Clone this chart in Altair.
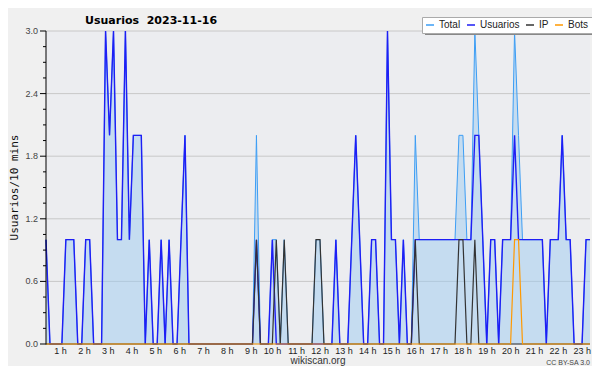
import altair as alt
import pandas as pd

# 10-minute slots from 00:00 to 22:50 (index 0..137)
usuarios = [
    1, 0, 0, 0, 0, 1, 1, 1, 0, 0, 1, 1,
    0, 0, 0, 3, 2, 3, 1, 1, 3, 1, 2, 2,
    2, 0, 1, 0, 0, 1, 0, 1, 0, 0, 1, 2,
    0, 0, 0, 0, 0, 0, 0, 0, 0, 0, 0, 0,
    0, 0, 0, 0, 0, 1, 0, 0, 0, 1, 0, 0,
    0, 0, 0, 0, 0, 0, 0, 0, 0, 0, 0, 0,
    0, 1, 0, 0, 0, 1, 2, 1, 0, 0, 1, 1,
    0, 0, 3, 1, 1, 0, 1, 0, 0, 1, 1, 1,
    1, 1, 1, 1, 1, 1, 1, 1, 1, 1, 1, 1,
    2, 2, 1, 0, 1, 1, 0, 1, 1, 1, 2, 1,
    1, 1, 1, 1, 1, 1, 0, 1, 1, 1, 2, 1,
    1, 0, 0, 0, 1, 1,
]
ip = [
    0, 0, 0, 0, 0, 0, 0, 0, 0, 0, 0, 0,
    0, 0, 0, 0, 0, 0, 0, 0, 0, 0, 0, 0,
    0, 0, 0, 0, 0, 0, 0, 0, 0, 0, 0, 0,
    0, 0, 0, 0, 0, 0, 0, 0, 0, 0, 0, 0,
    0, 0, 0, 0, 0, 1, 0, 0, 0, 0, 1, 0,
    1, 0, 0, 0, 0, 0, 0, 0, 1, 1, 0, 0,
    0, 0, 0, 0, 0, 0, 0, 0, 0, 0, 0, 0,
    0, 0, 0, 0, 0, 0, 0, 0, 0, 1, 0, 0,
    0, 0, 0, 0, 0, 0, 0, 0, 1, 1, 0, 0,
    1, 0, 0, 0, 0, 0, 0, 0, 0, 0, 0, 0,
    0, 0, 0, 0, 0, 0, 0, 0, 0, 0, 0, 0,
    0, 0, 0, 0, 0, 0,
]
bots = [
    0, 0, 0, 0, 0, 0, 0, 0, 0, 0, 0, 0,
    0, 0, 0, 0, 0, 0, 0, 0, 0, 0, 0, 0,
    0, 0, 0, 0, 0, 0, 0, 0, 0, 0, 0, 0,
    0, 0, 0, 0, 0, 0, 0, 0, 0, 0, 0, 0,
    0, 0, 0, 0, 0, 0, 0, 0, 0, 0, 0, 0,
    0, 0, 0, 0, 0, 0, 0, 0, 0, 0, 0, 0,
    0, 0, 0, 0, 0, 0, 0, 0, 0, 0, 0, 0,
    0, 0, 0, 0, 0, 0, 0, 0, 0, 0, 0, 0,
    0, 0, 0, 0, 0, 0, 0, 0, 0, 0, 0, 0,
    0, 0, 0, 0, 0, 0, 0, 0, 0, 0, 1, 1,
    0, 0, 0, 0, 0, 0, 0, 0, 0, 0, 0, 0,
    0, 0, 0, 0, 0, 0,
]
total = [u + p + b for u, p, b in zip(usuarios, ip, bots)]

series_names = ["Total", "Usuarios", "IP", "Bots"]
series_colors = ["#3d9ef5", "#1e1ef5", "#333333", "#ff9900"]
hour_ticks = list(range(1, 24))
hour_labels = [f"{h} h" for h in hour_ticks]
y_major = [0.0, 0.6, 1.2, 1.8, 2.4, 3.0]
y_major_labels = ["0.0", "0.6", "1.2", "1.8", "2.4", "3.0"]
y_minor = [0.15, 0.3, 0.45, 0.75, 0.9, 1.05, 1.35, 1.5, 1.65, 1.95, 2.1, 2.25, 2.55, 2.7, 2.85]
title_text = "Usuarios\u00a0\u00a02023-11-16"
y_title = "Usuarios/10 mins"

n = len(usuarios)
idx = list(range(n))
df_total = pd.DataFrame({"i": idx, "v": total})
long_rows = []
for name, vals in zip(series_names, [total, usuarios, ip, bots]):
    for i, v in enumerate(vals):
        long_rows.append({"i": i, "v": v, "serie": name})
df_long = pd.DataFrame(long_rows)
df_hours = pd.DataFrame({"i": [h * 6 for h in hour_ticks], "lab": hour_labels})
df_minor = pd.DataFrame({"v": y_minor})
df_major = pd.DataFrame({"v": y_major, "lab": y_major_labels})
df_one = pd.DataFrame({"a": [0]})

W, H = 544, 313
xscale = alt.Scale(domain=[0, n - 1], nice=False, zero=False)
yscale = alt.Scale(domain=[0, 3], nice=False)

x_axis = alt.Axis(values=idx, labels=False, tickSize=4, grid=False, title=None,
                  domainColor="#000", tickColor="#000", domainWidth=1, tickWidth=1)

Y = lambda: alt.Y("v:Q", scale=yscale, axis=None)

grid = alt.Chart(df_major).mark_rule(color="#c8c8c8", strokeWidth=1).encode(
    y=Y(), x=alt.value(0), x2=alt.value(W))

area = alt.Chart(df_total).mark_area(color="#9ecbf0", opacity=0.5, interpolate="linear").encode(
    x=alt.X("i:Q", scale=xscale, axis=x_axis),
    y=alt.Y("v:Q", scale=yscale, axis=None, stack=None),
)

legend = alt.Legend(orient="none", legendX=376, legendY=-14, direction="horizontal", title=None,
                    fillColor="#ffffff", strokeColor="#aaaaaa", padding=3, symbolType="stroke",
                    symbolSize=64, symbolStrokeWidth=1.5, labelFont="Liberation Sans",
                    labelFontSize=10, labelColor="#222", labelOffset=4, columnPadding=3,
                    labelLimit=0)
color = alt.Color("serie:N", scale=alt.Scale(domain=series_names, range=series_colors), legend=legend)

lines = []
for name, sw in zip(series_names, [1.0, 1.4, 1.2, 1.2]):
    lines.append(
        alt.Chart(df_long).transform_filter(alt.datum.serie == name)
        .mark_line(strokeWidth=sw, interpolate="linear")
        .encode(x=alt.X("i:Q", scale=xscale, axis=None), y=Y(), color=color)
    )

y_domain = alt.Chart(df_one).mark_rule(color="#000", strokeWidth=1).encode(
    x=alt.value(0), y=alt.value(0), y2=alt.value(H + 0.5))
minor = alt.Chart(df_minor).mark_rule(color="#000", strokeWidth=1).encode(
    y=Y(), x=alt.value(-3), x2=alt.value(0))
major = alt.Chart(df_major).mark_rule(color="#000", strokeWidth=1).encode(
    y=Y(), x=alt.value(-6), x2=alt.value(0))
ylabels = alt.Chart(df_major).mark_text(font="Liberation Sans", fontSize=9, color="#444",
                                        align="right", baseline="middle").encode(
    y=Y(), x=alt.value(-8), text="lab:N")
ytitle = alt.Chart(df_one).mark_text(text=y_title, font="DejaVu Sans Mono", fontSize=11,
                                     color="#111", angle=270, align="center",
                                     baseline="middle").encode(
    x=alt.value(-31), y=alt.value(H / 2))

hours = alt.Chart(df_hours).mark_text(font="Liberation Sans", fontSize=9, color="#222",
                                      align="right", baseline="middle", dx=-3).encode(
    x=alt.X("i:Q", scale=xscale, axis=None), y=alt.value(H + 7), text="lab:N")

shadow = alt.Chart(df_one).mark_rect(color="#888888").encode(
    x=alt.value(379), x2=alt.value(548), y=alt.value(-11), y2=alt.value(4))

head = alt.Chart(df_one).mark_text(text=title_text, font="DejaVu Sans", fontSize=11,
                                   fontWeight="bold", color="#000", align="left",
                                   baseline="alphabetic").encode(
    x=alt.value(39), y=alt.value(-7))

site = alt.Chart(df_one).mark_text(text="wikiscan.org", font="Liberation Sans", fontSize=10,
                                   color="#333", align="center", baseline="middle").encode(
    x=alt.value(W / 2), y=alt.value(H + 17))
lic = alt.Chart(df_one).mark_text(text="CC BY-SA 3.0", font="Liberation Sans", fontSize=7,
                                  color="#444", align="right", baseline="middle").encode(
    x=alt.value(W), y=alt.value(H + 19))

chart = alt.layer(grid, area, *lines, y_domain, minor, major, ylabels, ytitle, hours,
                  shadow, head, site, lic).properties(
    width=W, height=H,
    padding={"left": 38, "top": 23, "right": 2, "bottom": 22},
    autosize=alt.AutoSizeParams(type="none"),
    background="#f0f0f0",
).configure_view(fill="#ecedf0", stroke=None)

chart.save("out.html", embed_options={"renderer": "svg", "actions": False})
